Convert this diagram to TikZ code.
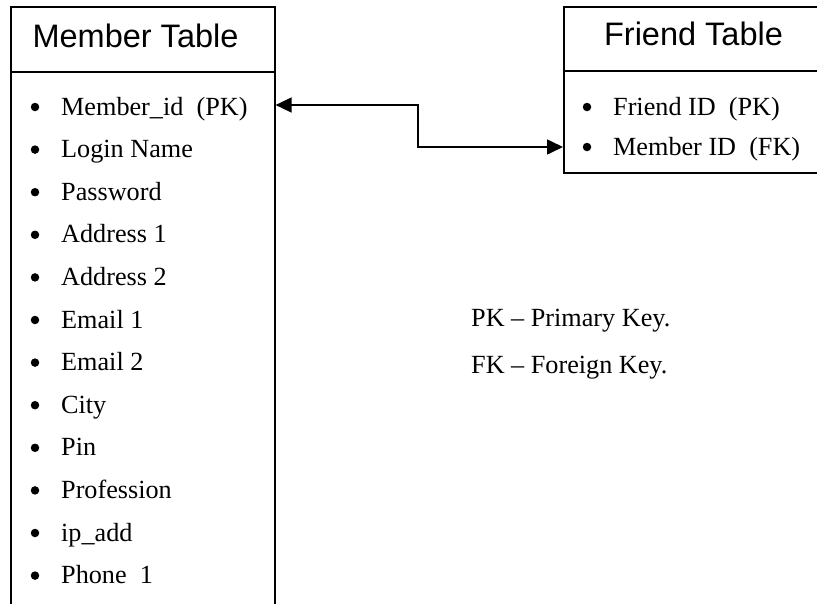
\documentclass[tikz,border=0pt]{standalone}
\usepackage{fontspec}
\setmainfont{Liberation Serif}
\newfontfamily\headfont{Liberation Sans}
\usetikzlibrary{arrows.meta}

\tikzset{
  tablebox/.style={draw, line width=1.6pt, inner sep=0pt},
  headtext/.style={font=\headfont\fontsize{32.5}{38}\selectfont, anchor=base, inner sep=0pt},
  rowtext/.style={font=\fontsize{26.2}{30}\selectfont, anchor=base west, inner sep=0pt},
  bulletdot/.style={fill, circle, inner sep=0pt, minimum size=8.5pt},
  legendtext/.style={font=\fontsize{26.2}{30}\selectfont, anchor=base west, inner sep=0pt},
  link/.style={line width=1.6pt, {Triangle[length=16pt,width=15pt]}-{Triangle[length=16pt,width=15pt]}}
}

\begin{document}
\begin{tikzpicture}[x=1pt,y=-1pt]
  \useasboundingbox (0,0) rectangle (817,603);
  \clip (0,0) rectangle (817,603);

  % Member table: outer box runs past the bottom edge
  \node[tablebox, minimum width=264pt, minimum height=700pt, anchor=north west] (member) at (10,6) {};
  \draw[line width=1.6pt] (10,72) -- (274,72);
  \node[headtext] (mhead) at (135.5,47) {Member Table};

  \foreach \i/\txt in {0/{Member\_id\ \ (PK)}, 1/Login Name, 2/Password, 3/Address 1,
                       4/Address 2, 5/Email 1, 6/Email 2, 7/City, 8/Pin,
                       9/Profession, 10/ip\_add, 11/{Phone\ \ 1}} {
    \node[bulletdot] (mb\i) at (35, 107+42.6*\i) {};
    \node[rowtext] (m\i) at (61, 115+42.6*\i) {\txt};
  }

  % Friend table: outer box runs past the right edge
  \node[tablebox, minimum width=264pt, minimum height=166pt, anchor=north west] (friend) at (563,6) {};
  \draw[line width=1.6pt] (563,71) -- (827,71);
  \node[headtext] (fhead) at (693.5,45) {Friend Table};

  \node[bulletdot] (fb0) at (587,107) {};
  \node[rowtext] (f0) at (613,115) {Friend ID\ \ (PK)};
  \node[bulletdot] (fb1) at (587,147) {};
  \node[rowtext] (f1) at (613,155) {Member ID\ \ (FK)};

  % Key relation between the two tables
  \coordinate (bend) at (418,105);
  \draw[link] (member.east |- bend) -- (bend) |- (friend.west |- fb1);

  % Legend
  \node[legendtext] (pk) at (471,326) {PK -- Primary Key.};
  \node[legendtext] (fk) at (471,373) {FK -- Foreign Key.};
\end{tikzpicture}
\end{document}
